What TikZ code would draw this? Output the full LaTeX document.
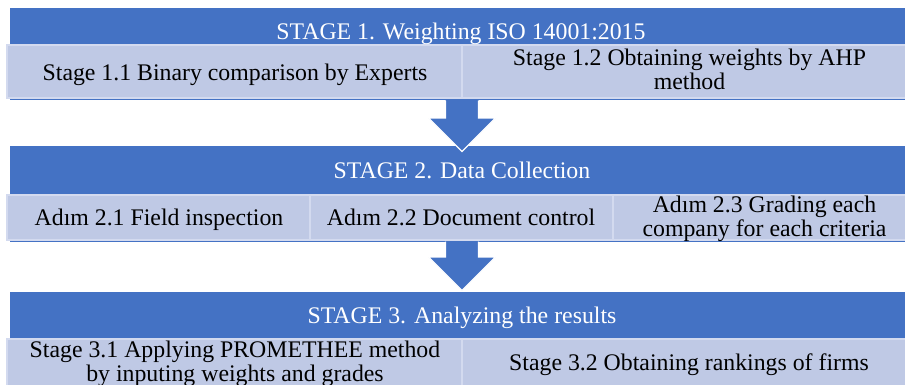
\documentclass[tikz,border=0pt]{standalone}
\usepackage{fontspec}
\setmainfont{Liberation Serif}
\definecolor{accent}{HTML}{4472C4}
\definecolor{tint}{HTML}{BFC9E5}
\definecolor{tintline}{HTML}{D3DAEF}
\newcommand{\twolines}[2]{\begin{tabular}[t]{@{}c@{}}#1\\#2\end{tabular}}
\begin{document}
\begin{tikzpicture}[x=1pt,y=-1pt,
  band/.style={fill=accent, draw=none, inner sep=0pt, outer sep=0pt, minimum width=905pt},
  subbox/.style={fill=tint, draw=tintline, line width=1.2pt, inner sep=0pt, outer sep=0pt},
  titletext/.style={text=white, font=\fontsize{23.8}{24.5}\selectfont, anchor=base, inner sep=0pt},
  subtext/.style={text=black, font=\fontsize{23.8}{24.5}\selectfont, anchor=base, inner sep=0pt},
  flowfill/.style={fill=accent},
  flowedge/.style={draw=white, line width=1.2pt, line join=miter}]
\useasboundingbox (0,0) rectangle (905,384);
\clip (0,0) rectangle (905,384);

% ---------- Stage 1
\node[band, minimum height=92pt] (b1) at (462.5,54) {};
\node[subbox, minimum width=455pt, minimum height=53pt] (s11) at (234.5,71.5) {};
\node[subbox, minimum width=455pt, minimum height=53pt] (s12) at (689.5,71.5) {};
\node[titletext] (t1) at (461,39.5) {STAGE 1. Weighting ISO 14001:2015};
\node[subtext] (t11) at (235,80) {Stage 1.1 Binary comparison by Experts};
\node[subtext] (t12) at (689.5,65) {\twolines{Stage 1.2 Obtaining weights by AHP}{method}};

% ---------- Stage 2
\node[band, minimum height=96pt] (b2) at (462.5,194) {};
\node[subbox, minimum width=303pt, minimum height=45pt] (s21) at (158.5,217.5) {};
\node[subbox, minimum width=303pt, minimum height=45pt] (s22) at (461.5,217.5) {};
\node[subbox, minimum width=303pt, minimum height=45pt] (s23) at (764.5,217.5) {};
\node[titletext] (t2) at (462,178) {STAGE 2. Data Collection};
\node[subtext] (t21) at (159,225) {Adım 2.1 Field inspection};
\node[subtext] (t22) at (461,225) {Adım 2.2 Document control};
\node[subtext] (t23) at (764.5,212) {\twolines{Adım 2.3 Grading each}{company for each criteria}};

% ---------- Arrow 1 (stage 1 -> stage 2)
\path[flowfill] (445.5,100) -- (478.5,100) -- (478.5,118) -- (495.5,118) -- (462,151.5)
  -- (428.5,118) -- (445.5,118) -- cycle;
\path[flowedge] (478.5,100.5) -- (478.5,118) -- (495.5,118) -- (462,151.5)
  -- (428.5,118) -- (445.5,118) -- (445.5,100.5);

% ---------- Stage 3
\node[band, minimum height=108pt] (b3) at (462.5,346) {};
\node[subbox, minimum width=455pt, minimum height=59pt] (s31) at (234.5,368.5) {};
\node[subbox, minimum width=455pt, minimum height=59pt] (s32) at (689.5,368.5) {};
\node[titletext] (t3) at (462,323) {STAGE 3. Analyzing the results};
\node[subtext] (t31) at (235,357) {\twolines{Stage 3.1 Applying PROMETHEE method}{by inputing weights and grades}};
\node[subtext] (t32) at (689,370) {Stage 3.2 Obtaining rankings of firms};

% ---------- Arrow 2 (stage 2 -> stage 3)
\path[flowfill] (445.5,241) -- (478.5,241) -- (478.5,257) -- (495.5,257) -- (462,290.5)
  -- (428.5,257) -- (445.5,257) -- cycle;
\path[flowedge] (478.5,241.5) -- (478.5,257) -- (495.5,257) -- (462,290.5)
  -- (428.5,257) -- (445.5,257) -- (445.5,241.5);
\end{tikzpicture}
\end{document}
